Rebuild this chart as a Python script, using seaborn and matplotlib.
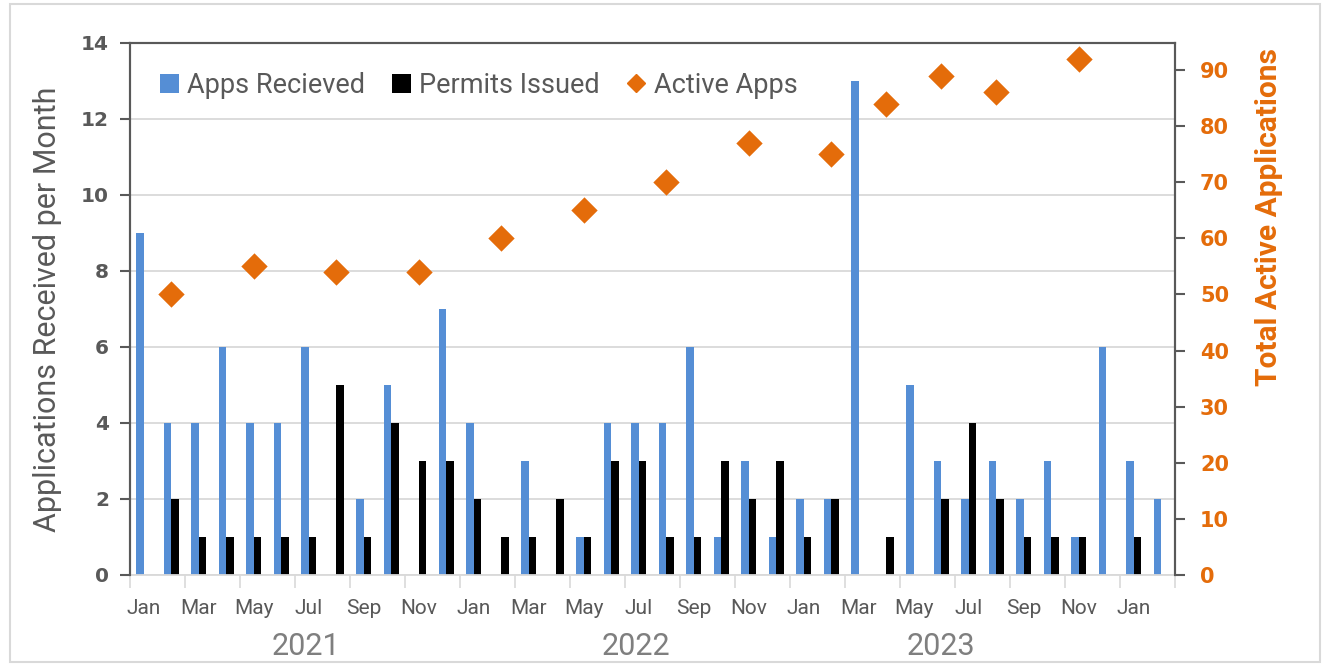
import matplotlib
matplotlib.use("Agg")
import matplotlib.pyplot as plt
import matplotlib.transforms as mtransforms
from matplotlib.patches import Patch, Rectangle
from matplotlib.lines import Line2D
import seaborn as sns
import pandas as pd

# ---- data ----
months = [
    "Jan 2021", "Feb 2021", "Mar 2021", "Apr 2021", "May 2021", "Jun 2021",
    "Jul 2021", "Aug 2021", "Sep 2021", "Oct 2021", "Nov 2021", "Dec 2021",
    "Jan 2022", "Feb 2022", "Mar 2022", "Apr 2022", "May 2022", "Jun 2022",
    "Jul 2022", "Aug 2022", "Sep 2022", "Oct 2022", "Nov 2022", "Dec 2022",
    "Jan 2023", "Feb 2023", "Mar 2023", "Apr 2023", "May 2023", "Jun 2023",
    "Jul 2023", "Aug 2023", "Sep 2023", "Oct 2023", "Nov 2023", "Dec 2023",
    "Jan 2024", "Feb 2024",
]
apps_received = [9, 4, 4, 6, 4, 4, 6, 0, 2, 5, 0, 7,
                 4, 0, 3, 0, 1, 4, 4, 4, 6, 1, 3, 1,
                 2, 2, 13, 0, 5, 3, 2, 3, 2, 3, 1, 6,
                 3, 2]
permits_issued = [0, 2, 1, 1, 1, 1, 1, 5, 1, 4, 3, 3,
                  2, 1, 1, 2, 1, 3, 3, 1, 1, 3, 2, 3,
                  1, 2, 0, 1, 0, 2, 4, 2, 1, 1, 1, 0,
                  1, 0]
active_months = ["Feb 2021", "May 2021", "Aug 2021", "Nov 2021",
                 "Feb 2022", "May 2022", "Aug 2022", "Nov 2022",
                 "Feb 2023", "Apr 2023", "Jun 2023", "Aug 2023", "Nov 2023"]
active_apps = [50, 55, 54, 54, 60, 65, 70, 77, 75, 84, 89, 86, 92]
year_labels = ["2021", "2022", "2023"]
year_label_pos = [5.9, 17.9, 29.0]

BLUE = "#558ED5"
ORANGE = "#E46C0A"
DARK = "#595959"
GRID = "#D9D9D9"
TEXT_FONT = ["Roboto", "DejaVu Sans"]

sns.set_theme(style="white")
plt.rcParams["font.family"] = ["DejaVu Sans"]

bars = pd.DataFrame({
    "month": months * 2,
    "count": apps_received + permits_issued,
    "series": ["Apps Recieved"] * len(months) + ["Permits Issued"] * len(months),
})

fig = plt.figure(figsize=(13.27, 6.66), dpi=100)
fig.patch.set_facecolor("white")
ax = fig.add_axes([130 / 1327, 1 - 575 / 666, 1045 / 1327, 532 / 666])

sns.barplot(data=bars, x="month", y="count", hue="series", order=months,
            palette={"Apps Recieved": BLUE, "Permits Issued": "black"},
            width=0.56, linewidth=0, saturation=1, ax=ax, legend=False)

ax.set_xlim(-0.5, len(months) - 0.5)
ax.set_ylim(0, 14)
ax.set_yticks(range(0, 15, 2))
ax.yaxis.grid(True, color=GRID, linewidth=1.3)
ax.set_axisbelow(True)
ax.set_xlabel("")
ax.set_ylabel("Applications Received per Month", fontsize=22, color=DARK,
              family=TEXT_FONT)
ax.yaxis.set_label_coords(-0.065, 0.5)
for lab in ax.get_yticklabels():
    lab.set_fontweight("bold")
ax.tick_params(axis="y", direction="out", length=7, width=1.5, color=DARK,
               labelsize=14.5, labelcolor=DARK, pad=8, left=True)

# month ticks: marks between every second month, labels on odd months
ax.set_xticks([i - 0.5 for i in range(0, len(months) + 1, 2)])
ax.set_xticklabels([])
ax.tick_params(axis="x", which="major", direction="out", length=9,
               width=1.2, color=GRID, bottom=True)
label_idx = list(range(0, len(months), 2))
ax.set_xticks(label_idx, minor=True)
ax.set_xticklabels([months[i].split()[0] for i in label_idx], minor=True,
                   fontsize=15, color=DARK, family=TEXT_FONT)
ax.tick_params(axis="x", which="minor", length=0, pad=17)

trans = mtransforms.blended_transform_factory(ax.transData, ax.transAxes)
for lab, pos in zip(year_labels, year_label_pos):
    ax.text(pos, -0.134, lab, transform=trans, ha="center", va="center",
            fontsize=22, color="#7F7F7F", family=TEXT_FONT)

for side in ["left", "right", "top"]:
    ax.spines[side].set_color(DARK)
    ax.spines[side].set_linewidth(1.5)
ax.spines["bottom"].set_color(GRID)
ax.spines["bottom"].set_linewidth(1.3)

# secondary axis: total active applications
ax2 = ax.twinx()
xpos = [months.index(m) for m in active_months]
sns.scatterplot(x=xpos, y=active_apps, ax=ax2, marker="D", s=180,
                color=ORANGE, edgecolor=ORANGE, linewidth=0, zorder=5)
ax2.set_ylim(0, 94.8)
ax2.set_yticks(range(0, 91, 10))
for lab in ax2.get_yticklabels():
    lab.set_fontweight("bold")
ax2.tick_params(axis="y", direction="out", length=7, width=1.5, color=DARK,
                labelsize=15, labelcolor=ORANGE, pad=11, right=True)
ax2.set_ylabel("Total Active Applications", fontsize=21.5, color=ORANGE,
               fontweight="bold", family=TEXT_FONT)
ax2.yaxis.set_label_coords(1.077, 0.673)
ax2.grid(False)
for side in ["left", "right", "top"]:
    ax2.spines[side].set_color(DARK)
    ax2.spines[side].set_linewidth(1.5)
ax2.spines["bottom"].set_visible(False)

handles = [
    Patch(facecolor=BLUE, edgecolor="none", label="Apps Recieved"),
    Patch(facecolor="black", edgecolor="none", label="Permits Issued"),
    Line2D([], [], marker="D", linestyle="none", markersize=9,
           color=ORANGE, label="Active Apps"),
]
leg = ax2.legend(handles=handles, loc="center left",
                 bbox_to_anchor=(0.0287, 0.921), borderpad=0, borderaxespad=0,
                 ncol=3, frameon=False, handlelength=0.7,
                 handleheight=0.7, handletextpad=0.3, columnspacing=1.0,
                 prop={"family": TEXT_FONT, "size": 19.5})
for t in leg.get_texts():
    t.set_color(DARK)

fig.add_artist(Rectangle((10 / 1327, 4 / 666), 1310 / 1327, 658 / 666,
                         transform=fig.transFigure, fill=False,
                         edgecolor=GRID, linewidth=1.5))

fig.savefig("out.png", dpi=100, facecolor="white")
